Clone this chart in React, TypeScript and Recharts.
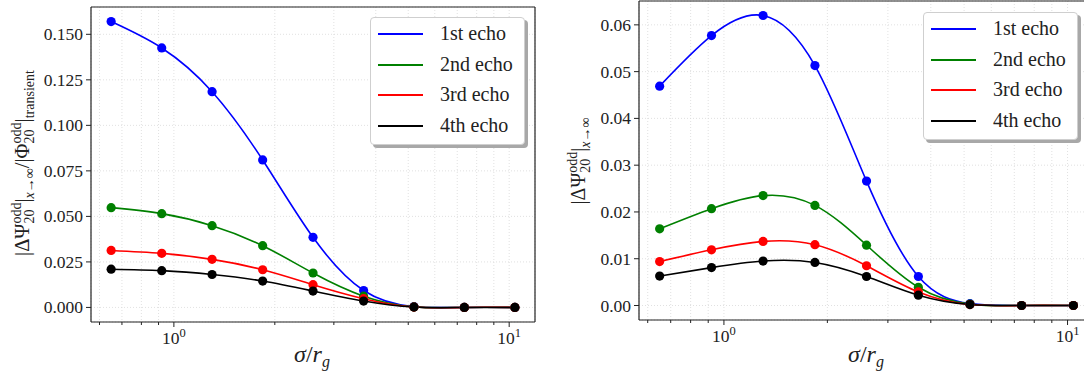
import React from 'react';
import { LineChart, Line, XAxis, YAxis, CartesianGrid, Legend, Label } from 'recharts';

// sigma / r_g sample points
const sigma = [0.65, 0.92, 1.3, 1.84, 2.6, 3.68, 5.2, 7.35, 10.4];

// left panel: |dPsi| / |Phi|_transient
const normFirst = [0.157, 0.1425, 0.1185, 0.081, 0.0385, 0.0093, 0.0004, 0.0, 0.0];
const normSecond = [0.0548, 0.0515, 0.0449, 0.0339, 0.0189, 0.0062, 0.0003, 0.0, 0.0];
const normThird = [0.0313, 0.0297, 0.0264, 0.0207, 0.0125, 0.0048, 0.0002, 0.0, 0.0];
const normFourth = [0.021, 0.0202, 0.0181, 0.0145, 0.009, 0.0035, 0.0002, 0.0, 0.0];

// right panel: |dPsi| at x -> inf
const absFirst = [0.0469, 0.0577, 0.062, 0.0513, 0.0266, 0.0062, 0.0004, 0.0, 0.0];
const absSecond = [0.0164, 0.0207, 0.0235, 0.0214, 0.0129, 0.0039, 0.0003, 0.0, 0.0];
const absThird = [0.0094, 0.0119, 0.0137, 0.013, 0.0085, 0.0029, 0.0002, 0.0, 0.0];
const absFourth = [0.0063, 0.0081, 0.0095, 0.0092, 0.0062, 0.0022, 0.0002, 0.0, 0.0];

const echoNames = ['1st echo', '2nd echo', '3rd echo', '4th echo'];
const echoColors = ['#0000ff', '#008000', '#ff0000', '#000000'];

const xTicks = [0.6, 0.7, 0.8, 0.9, 1, 2, 3, 4, 5, 6, 7, 8, 9, 10];
const leftYTicks = [0, 0.025, 0.05, 0.075, 0.1, 0.125, 0.15];
const rightYTicks = [0, 0.01, 0.02, 0.03, 0.04, 0.05, 0.06];

const FONT = 'Liberation Serif, Times New Roman, DejaVu Serif, serif';
const INK = '#222';

function buildRows(series: number[][]) {
  return sigma.map((s, i) => ({
    sigma: s,
    e1: series[0][i],
    e2: series[1][i],
    e3: series[2][i],
    e4: series[3][i],
  }));
}

const leftRows = buildRows([normFirst, normSecond, normThird, normFourth]);
const rightRows = buildRows([absFirst, absSecond, absThird, absFourth]);

function XTick({ x, y, payload }: any) {
  const v = payload.value;
  const major = v === 1 || v === 10;
  return (
    <g>
      <line x1={x} x2={x} y1={y} y2={y + (major ? 5 : 3)} stroke={INK} strokeWidth={1} />
      {major && (
        <text x={x} y={y + 22} textAnchor="middle" style={{ fontFamily: FONT }} fontSize={17.5} fill={INK}>
          10
          <tspan fontSize={12.5} dy={-7}>{v === 1 ? '0' : '1'}</tspan>
        </text>
      )}
    </g>
  );
}

function makeYTick(digits: number) {
  return function YTick({ x, y, payload }: any) {
    return (
      <g>
        <line x1={x - 5} x2={x} y1={y} y2={y} stroke={INK} strokeWidth={1} />
        <text x={x - 8} y={y + 6} textAnchor="end" style={{ fontFamily: FONT }} fontSize={17.5} fill={INK}>
          {payload.value.toFixed(digits)}
        </text>
      </g>
    );
  };
}

function EchoLegend({ payload }: any) {
  return (
    <div
      style={{
        width: 155,
        height: 128,
        boxSizing: 'border-box',
        border: '1px solid #cfcfcf',
        borderRadius: 4,
        background: '#fff',
        boxShadow: '3px 3px 0 #a8a8a8',
        position: 'relative',
        fontFamily: FONT,
        fontSize: 20,
        color: INK,
      }}
    >
      {(payload || []).map((p: any, i: number) => (
        <div key={p.value} style={{ position: 'absolute', left: 0, top: 16 + i * 30.6, width: '100%' }}>
          <div style={{ position: 'absolute', left: 7, top: -1, width: 45, height: 2, background: p.color }} />
          <div style={{ position: 'absolute', left: 69, top: -12, lineHeight: '22px', whiteSpace: 'nowrap' }}>{p.value}</div>
        </div>
      ))}
    </div>
  );
}

function XLabel({ cx }: { cx: number }) {
  return (
    <text x={cx} y={362} textAnchor="middle" style={{ fontFamily: FONT }} fontSize={24} fill={INK}>
      <tspan fontStyle="italic">σ</tspan>/<tspan fontStyle="italic">r</tspan>
      <tspan fontStyle="italic" fontSize={16} dy={5}>g</tspan>
    </text>
  );
}

function LeftYLabel() {
  return (
    <text
      x={29}
      y={163}
      transform="rotate(-90 29 163)"
      textAnchor="middle"
      style={{ fontFamily: FONT }}
      fontSize={20.5}
      fill={INK}
    >
      |ΔΨ
      <tspan fontSize={14} dy={-8}>odd</tspan>
      <tspan fontSize={14} dx={-21} dy={13}>20</tspan>
      <tspan dx={7} dy={-5}>|</tspan>
      <tspan fontSize={14} dy={5} fontStyle="italic">x</tspan>
      <tspan fontSize={14}>→∞</tspan>
      <tspan dy={-5}>/|Φ</tspan>
      <tspan fontSize={14} dy={-8}>odd</tspan>
      <tspan fontSize={14} dx={-21} dy={13}>20</tspan>
      <tspan dx={7} dy={-5}>|</tspan>
      <tspan fontSize={14} dy={5}>transient</tspan>
    </text>
  );
}

function RightYLabel() {
  return (
    <text
      x={45}
      y={161}
      transform="rotate(-90 45 161)"
      textAnchor="middle"
      style={{ fontFamily: FONT }}
      fontSize={20}
      fill={INK}
    >
      |ΔΨ
      <tspan fontSize={14} dy={-8}>odd</tspan>
      <tspan fontSize={14} dx={-21} dy={13}>20</tspan>
      <tspan dx={7} dy={-5}>|</tspan>
      <tspan fontSize={14} dy={5} fontStyle="italic">x</tspan>
      <tspan fontSize={14}>→∞</tspan>
    </text>
  );
}

interface PanelProps {
  rows: any[];
  width: number;
  margin: { top: number; right: number; bottom: number; left: number };
  yWidth: number;
  yDomain: [number, number];
  yTicks: number[];
  yDigits: number;
  legendPos: { left: number; top: number };
  xLabelCx: number;
  yLabel: React.ReactElement;
}

function Panel({ rows, width, margin, yWidth, yDomain, yTicks, yDigits, legendPos, xLabelCx, yLabel }: PanelProps) {
  const YTick = makeYTick(yDigits);
  return (
    <LineChart width={width} height={379} data={rows} margin={margin}>
      <CartesianGrid stroke="#d9d9d9" strokeDasharray="1 2" strokeWidth={0.8} />
      <XAxis
        dataKey="sigma"
        type="number"
        scale="log"
        domain={[0.566, 11.94]}
        ticks={xTicks}
        interval={0}
        height={1}
        tickSize={0}
        tickMargin={0}
        tickLine={false}
        tick={<XTick />}
        axisLine={{ stroke: INK, strokeWidth: 1.2 }}
      >
        <Label content={() => <XLabel cx={xLabelCx} />} />
      </XAxis>
      <XAxis
        xAxisId="top"
        orientation="top"
        type="number"
        domain={[0, 1]}
        height={1}
        tick={false}
        tickLine={false}
        axisLine={{ stroke: INK, strokeWidth: 1.2 }}
      />
      <YAxis
        type="number"
        domain={yDomain}
        ticks={yTicks}
        interval={0}
        width={yWidth}
        tickSize={0}
        tickMargin={0}
        tickLine={false}
        tick={<YTick />}
        axisLine={{ stroke: INK, strokeWidth: 1.2 }}
      >
        <Label content={() => yLabel} />
      </YAxis>
      <YAxis
        yAxisId="right"
        orientation="right"
        type="number"
        domain={[0, 1]}
        width={1}
        tick={false}
        tickLine={false}
        axisLine={{ stroke: INK, strokeWidth: 1.2 }}
      />
      {['e1', 'e2', 'e3', 'e4'].map((k, i) => (
        <Line
          key={k}
          dataKey={k}
          name={echoNames[i]}
          type="natural"
          stroke={echoColors[i]}
          strokeWidth={1.6}
          dot={{ r: 4.6, fill: echoColors[i], stroke: 'none' }}
          activeDot={false}
          isAnimationActive={false}
        />
      ))}
      <Legend
        layout="vertical"
        align="center"
        verticalAlign="middle"
        content={<EchoLegend />}
        wrapperStyle={{ left: legendPos.left, top: legendPos.top, width: 155, height: 128 }}
      />
    </LineChart>
  );
}

export default function App() {
  return (
    <div
      style={{
        position: 'fixed',
        left: 0,
        top: 0,
        width: 1084,
        height: 379,
        overflow: 'hidden',
        background: '#fff',
      }}
    >
      <div style={{ position: 'absolute', left: 0, top: 0 }}>
        <Panel
          rows={leftRows}
          width={540}
          margin={{ top: 6, right: 4, bottom: 56, left: 0 }}
          yWidth={91}
          yDomain={[-0.008, 0.165]}
          yTicks={leftYTicks}
          yDigits={3}
          legendPos={{ left: 370, top: 17 }}
          xLabelCx={312}
          yLabel={<LeftYLabel />}
        />
      </div>
      <div style={{ position: 'absolute', left: 540, top: 0 }}>
        <Panel
          rows={rightRows}
          width={560}
          margin={{ top: 0, right: 5, bottom: 58, left: 0 }}
          yWidth={99}
          yDomain={[-0.0031, 0.0651]}
          yTicks={rightYTicks}
          yDigits={2}
          legendPos={{ left: 383, top: 12 }}
          xLabelCx={326}
          yLabel={<RightYLabel />}
        />
      </div>
    </div>
  );
}
